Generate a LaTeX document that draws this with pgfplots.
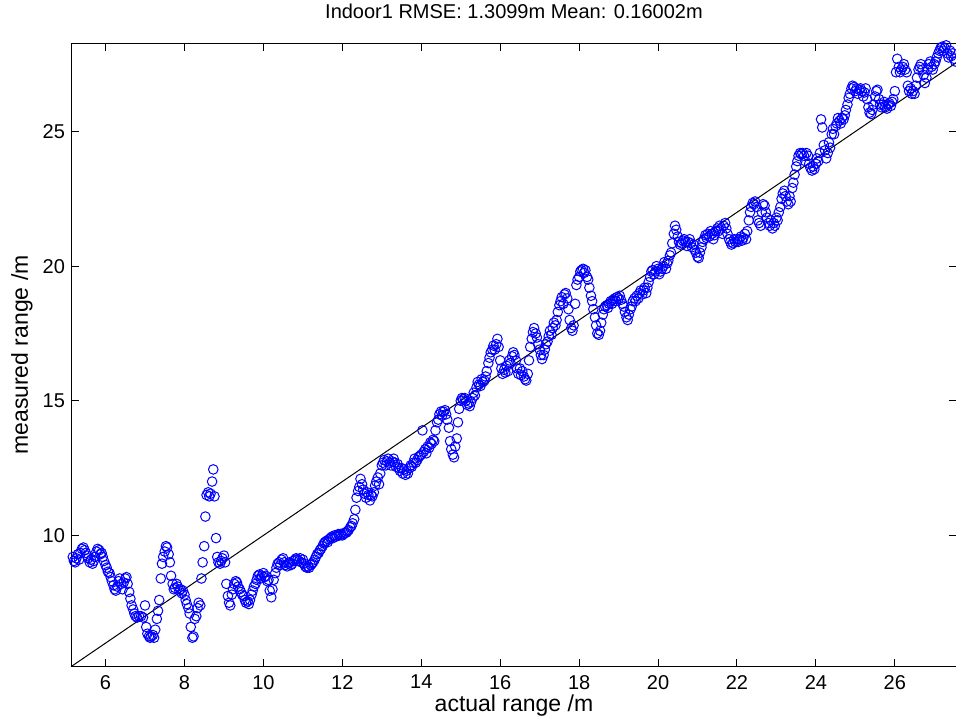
\documentclass[border=0pt]{standalone}
\usepackage{pgfplots}
\pgfplotsset{compat=1.18}
\usepackage{fontspec}
\setmainfont{Liberation Sans}

\begin{document}
\begin{tikzpicture}
\begin{axis}[
    name=ax,
    scale only axis,
    width=442pt, height=311pt,
    xmin=5.15, xmax=27.55,
    ymin=5.15, ymax=28.25,
    xtick={6,8,...,26},
    ytick={10,15,20,25},
    tick align=inside,
    major tick length=3.5pt,
    axis line style={line width=0.5pt},
    every tick/.style={black, line width=0.5pt},
    /pgf/number format/assume math mode=true,
    tick label style={font=\fontsize{10}{12}\selectfont},
    xticklabel style={yshift=-1pt},
    label style={font=\fontsize{11.5}{13}\selectfont},
    xlabel={actual range /m},
    ylabel={measured range /m},
    xlabel style={at={(axis description cs:0.5,0)}, anchor=base, yshift=-22.5pt},
    ylabel style={at={(axis description cs:0,0.5)}, anchor=center, yshift=25pt},
    every axis title shift=0pt,
    title={Indoor1 RMSE: 1.3099m Mean: 0.16002m},
    title style={font=\fontsize{10}{12}\selectfont, at={(axis description cs:0.5,1)}, anchor=base, yshift=12.5pt},
]
% measured vs actual range
\addplot[only marks, mark=o, mark size=2.4pt, blue, line width=0.5pt] coordinates {
(5.17,9.2)(5.2,9.05)(5.23,9.0)(5.26,9.15)(5.3,9.3)(5.33,9.1)(5.36,9.35)(5.4,9.5)(5.44,9.55)(5.47,9.45)
(5.5,9.35)(5.53,9.25)(5.56,9.15)(5.6,9.0)(5.63,9.1)(5.67,8.95)(5.7,9.05)(5.73,9.2)(5.77,9.4)(5.8,9.5)
(5.84,9.45)(5.87,9.3)(5.9,9.35)(5.93,9.2)(5.96,9.05)(6.0,8.9)(6.03,8.8)(6.06,8.65)(6.1,8.6)(6.13,8.45)
(6.16,8.3)(6.2,8.15)(6.23,8.0)(6.26,7.95)(6.3,8.1)(6.33,8.3)(6.36,8.4)(6.4,8.2)(6.43,8.0)(6.46,8.25)
(6.5,8.4)(6.53,8.45)(6.56,8.2)(6.6,7.9)(6.63,7.65)(6.66,7.4)(6.7,7.25)(6.73,7.1)(6.76,7.0)(6.8,6.95)
(6.85,7.0)(6.9,7.0)(6.95,6.95)(7.0,7.4)(7.03,6.6)(7.06,6.35)(7.1,6.25)(7.13,6.2)(7.16,6.25)(7.2,6.3)
(7.23,6.2)(7.26,6.5)(7.3,6.9)(7.33,7.2)(7.36,7.6)(7.4,8.4)(7.43,8.95)(7.46,9.2)(7.5,9.4)(7.53,9.6)
(7.56,9.55)(7.6,9.3)(7.63,9.0)(7.66,8.5)(7.7,8.2)(7.73,8.0)(7.76,8.05)(7.8,8.2)(7.83,8.1)(7.87,7.95)
(7.9,8.0)(7.93,7.85)(7.96,7.95)(8.0,7.8)(8.03,7.6)(8.06,7.45)(8.1,7.3)(8.13,7.1)(8.16,6.6)(8.2,6.2)
(8.23,6.25)(8.26,6.9)(8.3,7.0)(8.33,7.3)(8.36,7.5)(8.4,7.4)(8.43,8.4)(8.46,9.0)(8.5,9.6)(8.53,10.7)
(8.56,11.5)(8.6,11.6)(8.63,11.45)(8.66,11.55)(8.7,12.0)(8.73,12.45)(8.76,11.45)(8.8,9.9)(8.83,9.2)(8.86,9.0)
(8.9,8.95)(8.93,9.05)(8.96,9.15)(9.0,9.25)(9.03,9.0)(9.06,8.2)(9.1,7.75)(9.13,7.5)(9.16,7.4)(9.2,7.8)
(9.23,8.0)(9.26,8.2)(9.3,8.3)(9.33,8.25)(9.36,8.1)(9.4,8.0)(9.43,7.9)(9.46,7.8)(9.5,7.75)(9.53,7.6)
(9.56,7.5)(9.6,7.55)(9.63,7.45)(9.66,7.6)(9.7,7.8)(9.73,7.95)(9.76,8.1)(9.8,8.2)(9.83,8.35)(9.86,8.5)
(9.9,8.55)(9.93,8.4)(9.96,8.5)(10.0,8.6)(10.03,8.45)(10.06,8.5)(10.1,8.3)(10.13,8.35)(10.16,7.95)(10.2,7.7)
(10.23,8.0)(10.26,8.35)(10.3,8.6)(10.33,8.8)(10.36,8.95)(10.4,9.0)(10.43,8.9)(10.46,9.1)(10.5,9.15)(10.53,9.0)
(10.56,8.9)(10.6,8.85)(10.63,8.95)(10.66,9.0)(10.7,8.9)(10.73,8.95)(10.76,9.05)(10.8,9.1)(10.83,9.15)(10.86,9.1)
(10.9,9.05)(10.93,9.15)(10.96,9.0)(11.0,9.1)(11.03,8.95)(11.06,8.85)(11.1,8.8)(11.13,8.85)(11.16,8.8)(11.2,8.9)
(11.23,8.95)(11.26,9.0)(11.3,9.1)(11.33,9.2)(11.36,9.3)(11.4,9.35)(11.43,9.45)(11.46,9.5)(11.5,9.6)(11.53,9.7)
(11.56,9.75)(11.6,9.8)(11.63,9.75)(11.66,9.85)(11.7,9.9)(11.73,9.95)(11.76,9.9)(11.8,10.0)(11.83,9.95)(11.86,10.0)
(11.9,10.05)(11.93,10.0)(11.96,10.05)(12.0,10.0)(12.03,10.05)(12.06,10.1)(12.1,10.1)(12.13,10.15)(12.16,10.2)(12.2,10.3)
(12.23,10.35)(12.26,10.45)(12.3,10.6)(12.33,10.95)(12.36,11.4)(12.4,11.65)(12.43,11.8)(12.46,12.1)(12.5,11.9)(12.53,11.7)
(12.56,11.55)(12.6,11.4)(12.63,11.6)(12.66,11.5)(12.7,11.3)(12.73,11.5)(12.76,11.45)(12.8,11.6)(12.83,11.85)(12.86,12.0)
(12.9,12.15)(12.93,11.9)(12.96,12.3)(13.0,12.6)(13.03,12.7)(13.06,12.8)(13.1,12.6)(13.13,12.75)(13.16,12.85)(13.2,12.7)
(13.23,12.6)(13.26,12.75)(13.3,12.85)(13.33,12.7)(13.36,12.55)(13.4,12.65)(13.43,12.5)(13.46,12.4)(13.5,12.5)(13.53,12.3)
(13.56,12.45)(13.6,12.25)(13.63,12.4)(13.66,12.3)(13.7,12.5)(13.73,12.6)(13.76,12.55)(13.8,12.7)(13.83,12.85)(13.86,12.7)
(13.9,12.8)(13.93,12.9)(13.96,12.95)(14.0,13.0)(14.03,13.9)(14.06,13.1)(14.1,13.2)(14.13,13.05)(14.16,13.3)(14.2,13.25)
(14.23,13.45)(14.26,13.4)(14.3,13.55)(14.33,13.5)(14.36,13.9)(14.4,14.2)(14.43,14.3)(14.46,14.5)(14.5,14.6)(14.53,14.45)
(14.56,14.6)(14.6,14.65)(14.63,14.5)(14.66,14.3)(14.7,14.0)(14.73,13.5)(14.76,13.2)(14.8,13.0)(14.83,12.9)(14.86,13.3)
(14.9,13.6)(14.93,14.2)(14.96,14.7)(15.0,15.0)(15.03,15.1)(15.06,15.05)(15.1,15.1)(15.13,15.0)(15.16,14.85)(15.2,14.9)
(15.23,14.8)(15.26,14.95)(15.3,15.1)(15.33,15.3)(15.36,15.2)(15.4,15.5)(15.43,15.7)(15.46,15.6)(15.5,15.55)(15.53,15.8)
(15.56,15.7)(15.6,15.75)(15.63,15.9)(15.66,16.1)(15.7,16.4)(15.73,16.6)(15.76,16.8)(15.8,16.9)(15.83,17.05)(15.86,16.9)
(15.9,17.1)(15.93,17.3)(15.96,17.0)(16.0,16.5)(16.03,16.2)(16.06,16.0)(16.1,16.15)(16.13,16.05)(16.16,16.3)(16.2,16.1)
(16.23,16.5)(16.26,16.4)(16.3,16.65)(16.33,16.8)(16.36,16.7)(16.4,16.5)(16.43,16.2)(16.46,16.0)(16.5,16.2)(16.53,15.95)
(16.56,16.1)(16.6,15.9)(16.63,15.8)(16.66,15.75)(16.7,16.0)(16.73,16.5)(16.76,17.0)(16.8,17.3)(16.83,17.55)(16.86,17.7)
(16.9,17.5)(16.93,17.35)(16.96,17.1)(17.0,16.9)(17.03,16.7)(17.06,16.55)(17.1,16.7)(17.13,16.9)(17.16,17.1)(17.2,17.2)
(17.23,17.4)(17.26,17.6)(17.3,17.45)(17.33,17.7)(17.36,17.9)(17.4,17.8)(17.43,18.0)(17.46,18.3)(17.5,18.55)(17.53,18.7)
(17.56,18.85)(17.6,18.6)(17.63,18.95)(17.66,19.0)(17.7,18.8)(17.73,18.4)(17.76,18.0)(17.8,17.7)(17.83,17.6)(17.86,17.8)
(17.9,18.6)(17.93,19.3)(17.96,19.5)(18.0,19.6)(18.03,19.8)(18.06,19.85)(18.1,19.9)(18.13,19.75)(18.16,19.85)(18.2,19.6)
(18.23,19.5)(18.26,19.2)(18.3,18.9)(18.33,18.7)(18.36,18.4)(18.4,18.1)(18.43,17.8)(18.46,17.5)(18.5,17.45)(18.53,17.6)
(18.56,17.9)(18.6,18.2)(18.63,18.4)(18.66,18.5)(18.7,18.55)(18.73,18.45)(18.76,18.6)(18.8,18.7)(18.83,18.6)(18.86,18.75)
(18.9,18.8)(18.93,18.7)(18.96,18.85)(19.0,18.8)(19.03,18.9)(19.06,18.75)(19.1,18.6)(19.13,18.5)(19.16,18.3)(19.2,18.1)
(19.23,18.0)(19.26,18.2)(19.3,18.4)(19.33,18.5)(19.36,18.7)(19.4,18.8)(19.43,18.7)(19.46,18.9)(19.5,18.8)(19.53,19.0)
(19.56,19.1)(19.6,18.95)(19.63,19.1)(19.66,19.2)(19.7,19.0)(19.73,19.2)(19.76,19.4)(19.8,19.6)(19.83,19.8)(19.86,19.85)
(19.9,19.7)(19.93,19.8)(19.96,20.0)(20.0,19.9)(20.03,19.7)(20.06,19.8)(20.1,19.9)(20.13,20.0)(20.16,20.15)(20.2,19.9)
(20.23,20.1)(20.26,20.2)(20.3,20.4)(20.33,20.5)(20.36,20.85)(20.4,21.2)(20.43,21.5)(20.46,21.35)(20.5,21.1)(20.53,20.9)
(20.56,20.8)(20.6,20.85)(20.63,20.95)(20.66,21.0)(20.7,20.9)(20.73,20.75)(20.76,20.9)(20.8,21.0)(20.83,20.85)(20.86,20.7)
(20.9,20.8)(20.93,20.6)(20.96,20.5)(21.0,20.35)(21.03,20.3)(21.06,20.5)(21.1,20.7)(21.13,20.9)(21.16,21.0)(21.2,21.15)
(21.23,21.05)(21.26,21.2)(21.3,21.1)(21.33,21.3)(21.36,21.2)(21.4,21.0)(21.43,21.15)(21.46,21.3)(21.5,21.4)(21.53,21.3)
(21.56,21.5)(21.6,21.4)(21.63,21.2)(21.66,21.5)(21.7,21.6)(21.73,21.4)(21.76,21.2)(21.8,21.0)(21.83,20.9)(21.86,20.8)
(21.9,20.85)(21.93,21.0)(21.96,20.9)(22.0,21.0)(22.03,20.9)(22.06,21.0)(22.1,21.1)(22.13,20.95)(22.16,21.05)(22.2,21.2)
(22.23,21.0)(22.26,21.3)(22.3,21.7)(22.33,22.0)(22.36,22.2)(22.4,22.35)(22.43,22.3)(22.46,22.4)(22.5,22.2)(22.53,21.7)
(22.56,21.6)(22.6,21.5)(22.63,22.0)(22.66,22.3)(22.7,22.25)(22.73,22.0)(22.76,21.8)(22.8,21.6)(22.83,21.5)(22.86,21.7)
(22.9,21.4)(22.93,21.6)(22.96,21.5)(23.0,21.8)(23.03,21.7)(23.06,22.0)(23.1,22.2)(23.13,22.5)(23.16,22.7)(23.2,22.8)
(23.23,22.6)(23.26,22.4)(23.3,22.3)(23.33,22.6)(23.36,22.4)(23.4,22.9)(23.43,23.1)(23.46,23.4)(23.5,23.7)(23.53,23.9)
(23.56,24.1)(23.6,24.2)(23.63,24.15)(23.66,24.2)(23.7,24.1)(23.73,23.9)(23.76,24.2)(23.8,24.1)(23.83,23.8)(23.86,23.65)
(23.9,23.55)(23.93,23.7)(23.96,23.6)(24.0,23.8)(24.03,24.0)(24.06,23.9)(24.1,24.2)(24.13,25.45)(24.16,25.15)(24.2,24.5)
(24.23,24.3)(24.26,24.0)(24.3,24.2)(24.33,24.6)(24.36,24.4)(24.4,24.9)(24.43,25.1)(24.46,24.9)(24.5,25.2)(24.53,25.3)
(24.56,25.5)(24.6,25.4)(24.63,25.3)(24.66,25.5)(24.7,25.45)(24.73,25.6)(24.76,25.8)(24.8,26.0)(24.83,26.25)(24.86,26.4)
(24.9,26.6)(24.93,26.7)(24.96,26.65)(25.0,26.5)(25.03,26.6)(25.06,26.4)(25.1,26.55)(25.13,26.6)(25.16,26.5)(25.2,26.3)
(25.23,26.45)(25.26,26.6)(25.3,26.2)(25.33,25.9)(25.36,25.7)(25.4,25.65)(25.43,25.8)(25.46,26.0)(25.5,26.3)(25.53,26.5)
(25.56,26.55)(25.6,26.2)(25.63,26.0)(25.66,25.9)(25.7,26.0)(25.73,26.1)(25.76,25.9)(25.8,25.85)(25.83,26.0)(25.86,26.05)
(25.9,25.95)(25.93,26.1)(25.96,26.2)(26.0,26.5)(26.03,27.2)(26.06,27.7)(26.1,27.4)(26.13,27.2)(26.16,27.3)(26.2,27.4)
(26.23,27.5)(26.26,27.3)(26.3,27.2)(26.33,26.7)(26.36,26.5)(26.4,26.6)(26.43,26.4)(26.46,26.5)(26.5,26.4)(26.53,26.7)
(26.56,27.0)(26.6,27.3)(26.63,27.4)(26.66,27.5)(26.7,27.3)(26.73,27.1)(26.76,26.8)(26.8,27.0)(26.83,27.3)(26.86,27.5)
(26.9,27.6)(26.93,27.4)(26.96,27.3)(27.0,27.5)(27.03,27.6)(27.06,27.75)(27.1,27.9)(27.13,28.0)(27.16,28.1)(27.2,28.15)
(27.23,28.0)(27.26,28.1)(27.3,28.2)(27.33,27.9)(27.36,27.75)(27.4,28.0)(27.43,27.8)(27.46,27.9)(27.5,27.7)(27.53,27.6)
};
% ideal line
\addplot[black, line width=0.5pt] coordinates {(5.15,5.15)(27.55,27.55)};
\end{axis}
\pgfresetboundingbox
\useasboundingbox ([xshift=-36pt,yshift=-25.5pt]ax.south west) rectangle ([yshift=22pt]ax.north east);
\end{tikzpicture}
\end{document}
